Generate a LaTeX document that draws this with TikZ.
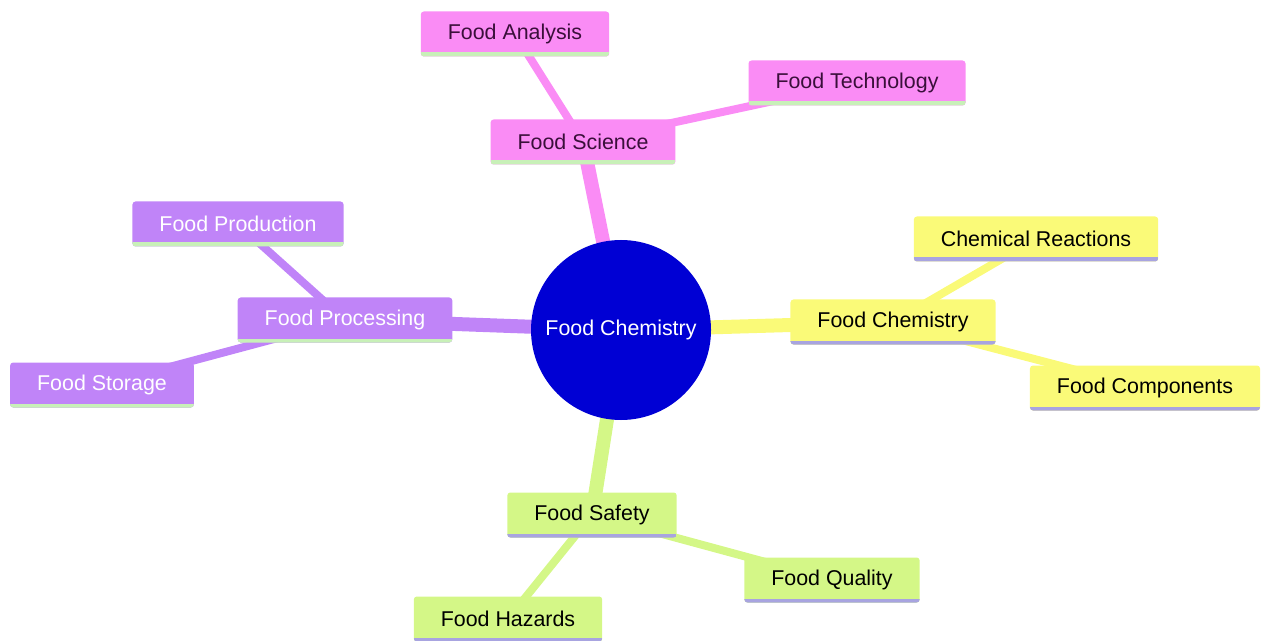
\documentclass[tikz,border=0pt]{standalone}
\usepackage{fontspec}
\setmainfont{Liberation Sans}
\usetikzlibrary{shapes,backgrounds,calc}
\definecolor{pinkbox}{HTML}{FA8CF5}
\definecolor{pinktext}{HTML}{3A0F3A}
\definecolor{purplebox}{HTML}{C084F8}
\definecolor{yellowbox}{HTML}{FAFA78}
\definecolor{greenbox}{HTML}{D4F787}
\definecolor{mintline}{HTML}{C8F0B8}
\definecolor{lavline}{HTML}{A8A4E0}
\definecolor{rootblue}{HTML}{0000D4}
\tikzset{
	topic/.style n args={3}{fill=#1, text=#2, rounded corners=1.5pt, minimum height=22.5pt, inner xsep=13.5pt,
		path picture={\draw[line width=4pt,#3] (path picture bounding box.south west) -- (path picture bounding box.south east);}},
	trunk/.style={line width=7pt, #1},
	twig/.style={line width=4pt, #1}
}
\begin{document}
\begin{tikzpicture}[x=0.5pt,y=-0.5pt,font=\fontsize{10.7}{13}\selectfont]
	\useasboundingbox (0,0) rectangle (1261,641);
	\node[circle, fill=rootblue, text=white, minimum size=90pt, inner sep=0pt] (root) at (621,330) {Food Chemistry};
	% science branch
	\node[topic={pinkbox}{pinktext}{mintline}] (sci) at (583,142) {Food Science};
	\node[topic={pinkbox}{pinktext}{mintline}] (ana) at (515,34) {Food Analysis};
	\node[topic={pinkbox}{pinktext}{mintline}] (tech) at (857,83) {Food Technology};
	% chemistry branch
	\node[topic={yellowbox}{black}{lavline}] (chem) at (893,322) {Food Chemistry};
	\node[topic={yellowbox}{black}{lavline}] (reac) at (1036,239) {Chemical Reactions};
	\node[topic={yellowbox}{black}{lavline}] (comp) at (1145,388) {Food Components};
	% processing branch
	\node[topic={purplebox}{white}{mintline}] (proc) at (345,320) {Food Processing};
	\node[topic={purplebox}{white}{mintline}] (prod) at (238,224) {Food Production};
	\node[topic={purplebox}{white}{mintline}] (stor) at (102,385) {Food Storage};
	% safety branch
	\node[topic={greenbox}{black}{lavline}] (safe) at (592,515) {Food Safety};
	\node[topic={greenbox}{black}{lavline}] (qual) at (832,580) {Food Quality};
	\node[topic={greenbox}{black}{lavline}] (haz) at (508,619) {Food Hazards};
	\begin{pgfonlayer}{background}
		\draw[trunk=pinkbox] (root.center) -- (sci.center);
		\draw[trunk=yellowbox] (root.center) -- (chem.center);
		\draw[trunk=purplebox] (root.center) -- (proc.center);
		\draw[trunk=greenbox] (root.center) -- (safe.center);
		\draw[twig=pinkbox] (sci.center) -- (ana.center);
		\draw[twig=pinkbox] (sci.center) -- (tech.center);
		\draw[twig=yellowbox] (chem.center) -- (reac.center);
		\draw[twig=yellowbox] (chem.center) -- (comp.center);
		\draw[twig=purplebox] (proc.center) -- (prod.center);
		\draw[twig=purplebox] (proc.center) -- (stor.center);
		\draw[twig=greenbox] (safe.center) -- (qual.center);
		\draw[twig=greenbox] (safe.center) -- (haz.center);
	\end{pgfonlayer}
\end{tikzpicture}
\end{document}
